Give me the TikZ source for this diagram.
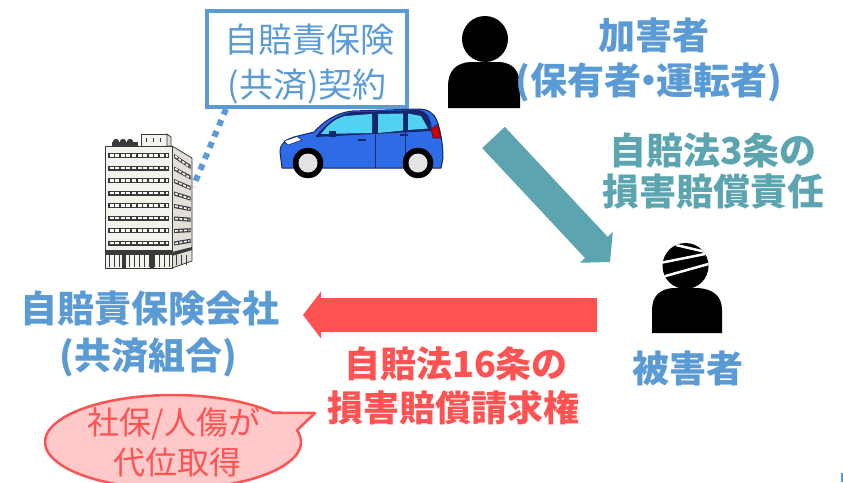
\documentclass[tikz,border=0pt]{standalone}
\usepackage{fontspec}
\newfontfamily\jp{Noto Sans CJK JP}
\usetikzlibrary{calc}
\definecolor{jblue}{HTML}{5B9BD5}
\definecolor{jteal}{HTML}{5BA4B0}
\definecolor{jred}{HTML}{FF5252}
\definecolor{jpink}{HTML}{FFC9C9}
\definecolor{carbody}{HTML}{2E6BE6}
\definecolor{carglass}{HTML}{52D2F2}
\definecolor{carline}{HTML}{15266B}
\definecolor{wall}{HTML}{F4F2EC}
\definecolor{wallside}{HTML}{E2DFD8}
\definecolor{ink}{HTML}{3A3A3A}

\begin{document}
\begin{tikzpicture}[x=1pt,y=-1pt,
  lbl/.style={inner sep=0pt, font=\jp\bfseries\fontsize{37}{37}\selectfont},
  lblred/.style={inner sep=0pt, text=jred, font=\jp\bfseries\fontsize{36}{36}\selectfont},
  boxtxt/.style={inner sep=0pt, text=jblue, font=\jp\fontsize{34}{34}\selectfont},
  bubtxt/.style={inner sep=0pt, text=jred, font=\jp\fontsize{32}{32}\selectfont},
  dotline/.style={jblue, line width=6pt, dash pattern=on 6pt off 6pt},
  bline/.style={draw=ink, line width=0.8pt},
]
\useasboundingbox (0,0) rectangle (843,482);
\fill[white] (0,0) rectangle (843,482);

% ---------- contract box ----------
\node[draw=jblue, line width=4pt, minimum width=200pt, minimum height=96pt, inner sep=0pt] (contract) at (307,59) {};
\node[boxtxt] (contract1) at (309,40) {自賠責保険};
\node[boxtxt] (contract2) at (307,87) {(共済)契約};

% ---------- insurance company building ----------
\node[minimum width=90pt, minimum height=135pt, inner sep=0pt] (bldg) at (148,200.5) {};
\fill[wallside, bline] (172,146) -- (192,158) -- (192,261) -- (172,268) -- cycle;
\fill[wall, bline] (105,146) rectangle (172,268);
\fill[wall, bline] (141,134) rectangle (167,146);
\fill[wallside, bline] (167,134) -- (171,137) -- (171,146) -- (167,146) -- cycle;
\foreach \x in {146,153,160} \draw[ink, line width=0.8pt] (\x,138) -- (\x,142);
\fill[ink] (112,142) rectangle (138,146);
\foreach \x in {116,123,130} \fill[ink] (\x,142) circle (3.2);
\foreach \y in {153,165.5,178,190.5,203,215.5,228,240.5}{
  \fill[ink] (108,\y) rectangle (169,\y+5);
  \draw[white, line width=2.2pt, dash pattern=on 4pt off 1.6pt] (109.5,\y+2.5) -- (168,\y+2.5);
  \pgfmathsetmacro\yr{158+(\y-146)*0.844}
  \fill[ink] (174,\y+1) -- (190.5,\yr+1) -- (190.5,\yr+5) -- (174,\y+5) -- cycle;
  \draw[white, line width=1.6pt, dash pattern=on 3pt off 1.5pt] (175,\y+3) -- (189.5,\yr+3);
}
\fill[ink] (105,250) rectangle (172,254.5);
\foreach \x in {109,114,...,169} \draw[ink, line width=0.9pt] (\x,254) -- (\x,267);
\fill[ink] (122,254) rectangle (125.5,268);
\fill[ink] (150,254) rectangle (153.5,268);
\fill[ink] (172,252) -- (192,247) -- (192,250) -- (172,256) -- cycle;
\foreach \x in {176,181,186} \draw[ink, line width=0.8pt] (\x,255) -- (\x,265);

% dotted contract link
\draw[dotline] ([xshift=21pt]contract.south west) -- ($(bldg.east)+(0,-14)$);

% ---------- car ----------
\filldraw[fill=carbody, draw=carline, line width=1pt, line join=round]
  (282,168) -- (280,152) .. controls (280,144) and (285,140) .. (294,137)
  -- (314,132) .. controls (324,121) and (336,113) .. (352,111)
  -- (418,109) .. controls (428,109) and (434,113) .. (437,121)
  .. controls (441,132) and (443,146) .. (443,158) -- (441,168) -- cycle;
\fill[carline] (316,136) .. controls (326,124) and (336,115) .. (352,112)
  -- (418,110) .. controls (427,111) and (431,118) .. (432,131) -- (316,137) -- cycle;
\fill[carglass] (321,134) .. controls (328,125) and (334,119) .. (345,116)
  -- (372,114) -- (372,133) -- cycle;
\fill[carglass] (378,114) -- (403,113.5) -- (403,130.5) -- (378,133) -- cycle;
\fill[carglass] (408,113.5) -- (421,116) -- (428,128.5) -- (408,130) -- cycle;
\fill[carline] (329,131) rectangle (336,137);
\draw[carline, line width=0.8pt] (375,134) -- (375,168);
\draw[carline, line width=0.8pt] (405.5,131) -- (405.5,160);
\draw[carline, line width=1.2pt] (358,140) -- (366,140);
\draw[carline, line width=1.2pt] (400,135) -- (408,135);
\filldraw[fill=red!80!black, draw=carline, line width=0.6pt] (431,129) -- (438,124) -- (441,138) -- (433,138) -- cycle;
\filldraw[fill=white, draw=carline, line width=0.6pt] (284,141) -- (297,136.5) -- (302,140) -- (288,145) -- cycle;
\filldraw[fill=black] (308,163) circle (15);
\fill[gray!22] (308,163) circle (9.5);
\filldraw[fill=black] (418,163) circle (15);
\fill[gray!22] (418,163) circle (9.5);

% ---------- driver silhouette ----------
\fill[black] (485,39) circle (23);
\fill[black] (448,108) -- (448,86) .. controls (448,71) and (456,63) .. (470,62)
  -- (500,62) .. controls (513,63) and (520,71) .. (520,86) -- (520,108) -- cycle;

% ---------- victim silhouette ----------
\fill[black] (685.5,266) circle (23);
\fill[black] (652,333) -- (652,310) .. controls (652,296) and (660,289) .. (673,288)
  -- (698,288) .. controls (713,289) and (722,296) .. (722,310) -- (722,333) -- cycle;
\begin{scope}
  \clip (685.5,266) circle (23);
  \draw[white, line width=2.5pt] (676,245) -- (706,252);
  \draw[white, line width=2.5pt] (660,263) -- (710,253);
  \draw[white, line width=2.5pt] (662,277) -- (712,263);
\end{scope}

% ---------- block arrows ----------
\coordinate (tealS) at (493.5,137.5);
\coordinate (tealT) at (610,262);
\coordinate (tealH) at ($(tealT)!20pt!(tealS)$);
\fill[jteal] ($(tealS)!15.5pt!90:(tealT)$) -- ($(tealH)!15.5pt!90:(tealT)$)
  -- ($(tealH)!22.5pt!90:(tealT)$) -- (tealT) -- ($(tealH)!22.5pt!-90:(tealT)$)
  -- ($(tealH)!15.5pt!-90:(tealT)$) -- ($(tealS)!15.5pt!-90:(tealT)$) -- cycle;

\coordinate (redS) at (597,315);
\coordinate (redT) at (303,315);
\coordinate (redH) at ($(redT)!18pt!(redS)$);
\fill[jred] ($(redS)!17pt!90:(redT)$) -- ($(redH)!17pt!90:(redT)$)
  -- ($(redH)!23.5pt!90:(redT)$) -- (redT) -- ($(redH)!23.5pt!-90:(redT)$)
  -- ($(redH)!17pt!-90:(redT)$) -- ($(redS)!17pt!-90:(redT)$) -- cycle;

% ---------- labels ----------
\node[lbl, text=jblue] (drv1) at (654,35) {加害者};
\node[lbl, text=jblue] (drv2) at (649,82) {(保有者\kern-0.3em・\kern-0.3em運転者)};
\node[lbl, text=jteal] (law3a) at (713,150) {自賠法3条の};
\node[lbl, text=jteal] (law3b) at (713,192) {損害賠償責任};
\node[lbl, text=jblue] (vic) at (688,368) {被害者};
\node[lblred] (law16a) at (456,364) {自賠法16条の};
\node[lblred] (law16b) at (453,408) {損害賠償請求権};
\node[lbl, text=jblue] (ins1) at (150,309) {自賠責保険会社};
\node[lbl, text=jblue] (ins2) at (148,357) {(共済組合)};

% ---------- speech bubble ----------
\coordinate (bubc) at (173,442);
\coordinate (bubtip) at (315,413);
\filldraw[fill=jpink, draw=jred, line width=2.5pt, line join=round]
  (bubc) ++(-14.4:128 and 47) arc[start angle=-14.4, end angle=321.4, x radius=128, y radius=47]
  -- (bubtip) -- cycle;
\node[bubtxt] (bub1) at (174,424) {社保/人傷が};
\node[bubtxt] (bub2) at (177,462) {代位取得};

\fill[jblue] (840.5,473) rectangle (843,482);
\end{tikzpicture}
\end{document}
